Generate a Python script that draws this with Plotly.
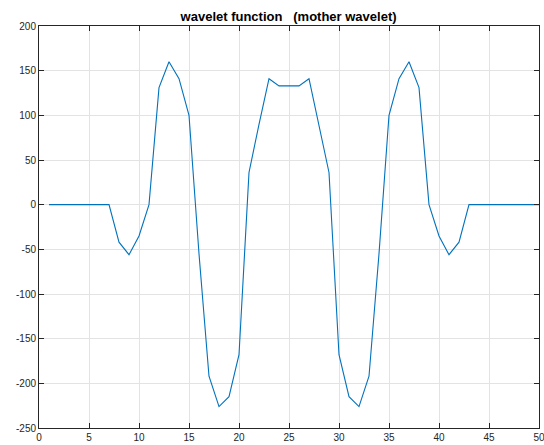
import plotly.graph_objects as go

x_vals = list(range(1, 51))
y_vals = [0, 0, 0, 0, 0, 0, 0, -42, -56, -35,
          0, 131, 160, 141, 100, -55, -192, -226, -215, -168,
          36, 90, 141, 133, 133, 133, 141, 90, 36, -168,
          -215, -226, -192, -55, 100, 141, 160, 131, 0, -35,
          -56, -42, 0, 0, 0, 0, 0, 0, 0, 0]
x_ticks = [0, 5, 10, 15, 20, 25, 30, 35, 40, 45, 50]
y_ticks = [-250, -200, -150, -100, -50, 0, 50, 100, 150, 200]
title_text = "wavelet function\u00a0\u00a0\u00a0(mother wavelet)"

fig = go.Figure()
fig.add_trace(go.Scatter(x=x_vals, y=y_vals, mode="lines",
                         line=dict(color="#0072BD", width=1.1),
                         showlegend=False, hoverinfo="skip"))

axis_common = dict(
    showline=True, linecolor="#262626", linewidth=1, mirror="ticks",
    ticks="inside", ticklen=5, tickwidth=1, tickcolor="#262626",
    showgrid=True, gridcolor="#e3e3e3", gridwidth=1,
    zeroline=False, automargin=False, ticklabeloverflow="allow",
    tickfont=dict(family="Liberation Sans, Arial, sans-serif", size=10, color="#262626"),
)

fig.update_layout(
    width=544, height=445,
    margin=dict(l=39, r=5, t=26, b=17, autoexpand=False),
    paper_bgcolor="white", plot_bgcolor="white",
    title=dict(text="<b>" + title_text + "</b>", x=0.5305, xanchor="center",
               y=1 - 21 / 445, yanchor="bottom",
               font=dict(family="Liberation Sans, Arial, sans-serif", size=13, color="#000000")),
    xaxis=dict(range=[0, 50], tickvals=x_ticks, ticktext=[str(v) for v in x_ticks],
               ticklabelstandoff=0, **axis_common),
    yaxis=dict(range=[-250, 200], tickvals=y_ticks, ticktext=[str(v) for v in y_ticks],
               **axis_common),
)

fig.write_html("out.html", config={"displayModeBar": False, "staticPlot": True},
               post_script="document.body.style.margin='0px';document.body.style.overflow='hidden';")
